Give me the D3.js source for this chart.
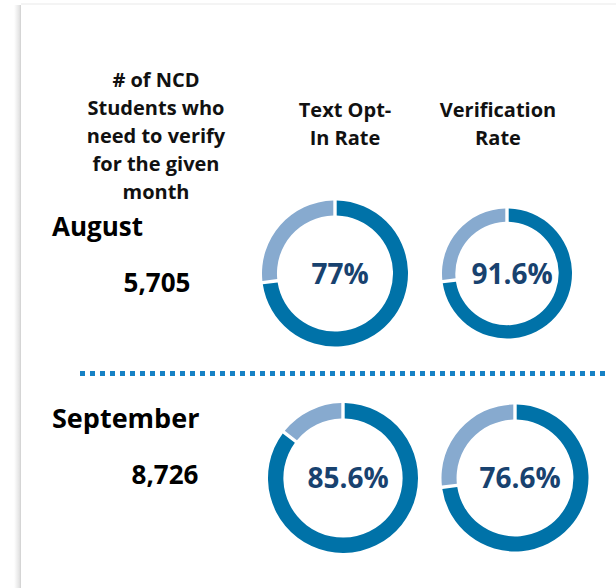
<!DOCTYPE html>
<html>
<head>
<meta charset="utf-8">
<script src="https://cdn.jsdelivr.net/npm/d3@7"></script>
<style>
  body { margin: 0; background: #fff; }
  text { font-family: "Open Sans", "Noto Sans", sans-serif; font-weight: 700; }
</style>
</head>
<body>
<div id="chart"></div>
<script>
// Data
const months = ["August", "September"];
const studentsToVerify = [5705, 8726];
const metrics = ["Text Opt-In Rate", "Verification Rate"];
const textOptInLabel = ["77%", "85.6%"];
const verificationLabel = ["91.6%", "76.6%"];
// share of each ring drawn in dark blue, as it appears in the picture
const textOptInRing = [73, 85.5];
const verificationRing = [73, 73];

const countHeader = ["# of NCD", "Students who", "need to verify", "for the given", "month"];
const metricHeaders = [["Text Opt-", "In Rate"], ["Verification", "Rate"]];

const width = 616, height = 588;
const darkBlue = "#0072a8";
const lightBlue = "#87aacf";
const labelNavy = "#18426f";

const svg = d3.select("#chart")
  .append("svg")
  .attr("width", width)
  .attr("height", height);

// panel edge shadow on the left + faint top edge
const defs = svg.append("defs");
const grad = defs.append("linearGradient").attr("id", "edge").attr("x1", 0).attr("x2", 1);
grad.append("stop").attr("offset", 0).attr("stop-color", "#fff");
grad.append("stop").attr("offset", 0.75).attr("stop-color", "#e4e4e4");
grad.append("stop").attr("offset", 1).attr("stop-color", "#cfcfcf");
svg.append("rect").attr("x", 14).attr("y", 5).attr("width", 7).attr("height", height).attr("fill", "url(#edge)");
svg.append("line").attr("x1", 21).attr("x2", width).attr("y1", 4).attr("y2", 4)
  .attr("stroke", "#f1f1f1").attr("stroke-width", 1.5);

const blur = defs.append("filter").attr("id", "soft").attr("x", "-5%").attr("y", "-200%").attr("width", "110%").attr("height", "500%");
blur.append("feGaussianBlur").attr("stdDeviation", 1.8);

// Layout scales
const x = d3.scalePoint().domain(metrics).range([339, 511]);
const y = d3.scalePoint().domain(months).range([273.5, 478]);
const yText = d3.scalePoint().domain(months).range([236, 428]);
const rowNudge = { August: -4, September: 4 };
const ringRadius = { August: [73, 65], September: [75, 73.5] };

// Headers
svg.append("text")
  .attr("text-anchor", "middle")
  .attr("font-size", 20)
  .attr("fill", "#111")
  .selectAll("tspan")
  .data(countHeader)
  .join("tspan")
    .attr("x", 156)
    .attr("y", (d, i) => 87 + i * 28)
    .text(d => d);

const headerX = [345, 498];
metricHeaders.forEach((lines, j) => {
  svg.append("text")
    .attr("text-anchor", "middle")
    .attr("font-size", 20)
    .attr("fill", "#111")
    .selectAll("tspan")
    .data(lines)
    .join("tspan")
      .attr("x", headerX[j])
      .attr("y", (d, i) => 117 + i * 28)
      .text(d => d);
});

// Month names and counts
const fmt = d3.format(",");
months.forEach((m, i) => {
  svg.append("text")
    .attr("x", 52)
    .attr("y", yText(m))
    .attr("font-size", i === 0 ? 26 : 27)
    .attr("fill", "#000")
    .text(m);
  svg.append("text")
    .attr("x", 161 + rowNudge[m])
    .attr("y", yText(m) + 56)
    .attr("text-anchor", "middle")
    .attr("font-size", 26)
    .attr("fill", "#000")
    .text(fmt(studentsToVerify[i]));
});

// Dotted separator with its soft shadow
svg.append("line")
  .attr("x1", 80).attr("x2", 608)
  .attr("y1", 378).attr("y2", 378)
  .attr("stroke", "#bbb").attr("stroke-width", 4)
  .attr("filter", "url(#soft)");
svg.append("line")
  .attr("x1", 80).attr("x2", 608)
  .attr("y1", 373.5).attr("y2", 373.5)
  .attr("stroke", "#1681c4").attr("stroke-width", 5)
  .attr("stroke-dasharray", "5 5");

// Donuts
const pie = d3.pie().sort(null).value(d => d);
const cells = [];
months.forEach((m, i) => {
  cells.push({ month: m, metric: metrics[0], ring: textOptInRing[i], label: textOptInLabel[i], r: ringRadius[m][0] });
  cells.push({ month: m, metric: metrics[1], ring: verificationRing[i], label: verificationLabel[i], r: ringRadius[m][1] });
});

const donut = svg.selectAll("g.donut")
  .data(cells)
  .join("g")
    .attr("class", "donut")
    .attr("transform", d => `translate(${x(d.metric) + rowNudge[d.month]}, ${y(d.month)})`);

donut.each(function(d) {
  const inner = d.r * 0.795;
  const arc = d3.arc()
    .innerRadius(inner)
    .outerRadius(d.r)
    .padAngle(3.4 / Math.hypot(d.r, inner));
  d3.select(this).selectAll("path")
    .data(pie([d.ring, 100 - d.ring]))
    .join("path")
      .attr("d", arc)
      .attr("fill", (p, k) => k === 0 ? darkBlue : lightBlue);
});

donut.append("text")
  .attr("x", 5)
  .attr("y", 10)
  .attr("text-anchor", "middle")
  .attr("font-size", 28)
  .attr("fill", labelNavy)
  .text(d => d.label);
</script>
</body>
</html>
